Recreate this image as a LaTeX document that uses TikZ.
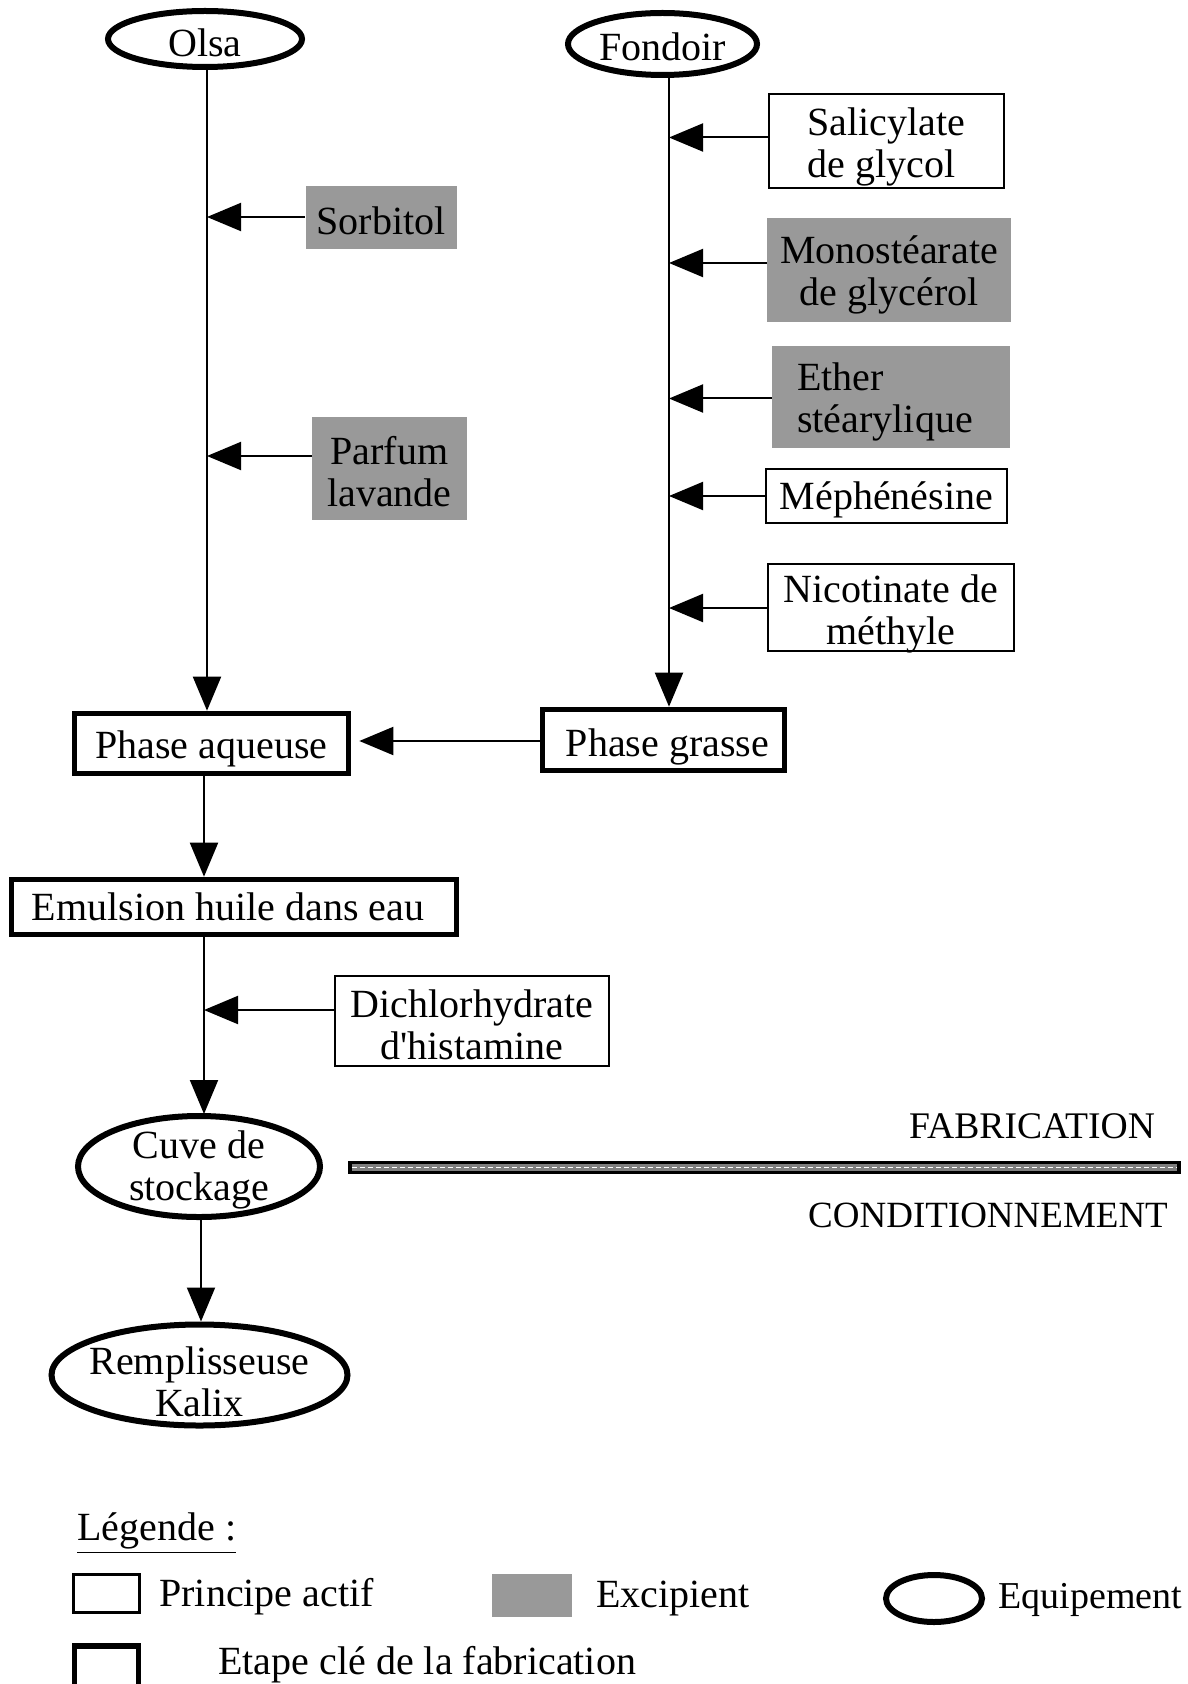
\documentclass[tikz,border=0pt]{standalone}
\usepackage{fontspec}
\setmainfont{Liberation Serif}
\usetikzlibrary{arrows.meta,shapes.geometric}
\begin{document}
\begin{tikzpicture}[x=0.5pt,y=-0.5pt,
 every node/.style={font=\fontsize{20}{21}\selectfont},
 txt/.style={inner sep=0pt, align=center},
 actif/.style={draw, line width=1.2pt, inner sep=0pt},
 exc/.style={fill=black!40, inner sep=0pt},
 keybox/.style={draw, line width=2.8pt, inner sep=0pt},
 equip/.style={draw, ellipse, line width=3pt, inner sep=0pt},
 arr/.style={line width=1pt, -{Triangle[length=17pt,width=14pt]}},
]
\useasboundingbox (0,0) rectangle (1187,1684);

% equipment
\node[equip, minimum width=97pt, minimum height=28pt] (olsa) at (205,39) {};
\node[txt] (olsat) at ([yshift=-2pt]olsa.center) {Olsa};
\node[equip, minimum width=94.5pt, minimum height=31pt] (fond) at (662.5,44) {};
\node[txt] (fondt) at ([yshift=-1.5pt]fond.center) {Fondoir};

% Olsa side inputs
\node[exc, minimum width=75.5pt, minimum height=31.5pt] (sorb) at (381,217.5) {};
\node[txt] (sorbt) at ([yshift=-1.5pt]sorb.center) {Sorbitol};
\node[exc, minimum width=77.5pt, minimum height=51.5pt] (parf) at (389.5,468.5) {};
\node[txt] (parft) at ([yshift=-1.5pt]parf.center) {Parfum\\lavande};

% Fondoir side inputs
\node[actif, minimum width=117.5pt, minimum height=47pt] (sal) at (886.5,141) {};
\node[txt, align=left] (salt) at ([yshift=-3pt]sal.center) {Salicylate\\de glycol};
\node[exc, minimum width=122pt, minimum height=52pt] (mono) at (889,270) {};
\node[txt] (monot) at ([yshift=-2.7pt]mono.center) {Monostéarate\\de glycérol};
\node[exc, minimum width=119pt, minimum height=51pt] (ether) at (891,397) {};
\node[txt, align=left] (ethert) at ([xshift=-3pt,yshift=-2.7pt]ether.center) {Ether\\stéarylique};
\node[actif, minimum width=120.5pt, minimum height=27pt] (meph) at (886.5,496) {};
\node[txt] (mepht) at ([yshift=-2pt]meph.center) {Méphénésine};
\node[actif, minimum width=123pt, minimum height=43.5pt] (nico) at (891,607.5) {};
\node[txt] (nicot) at ([yshift=-3pt]nico.center) {Nicotinate de\\méthyle};

% key steps
\node[keybox, minimum width=137pt, minimum height=30pt] (paq) at (211.5,743.5) {};
\node[txt] (paqt) at ([yshift=-2.5pt]paq.center) {Phase aqueuse};
\node[keybox, minimum width=121pt, minimum height=30.5pt] (pgr) at (663.5,740) {};
\node[txt] (pgrt) at ([xshift=2pt,yshift=-3.5pt]pgr.center) {Phase grasse};
\node[keybox, minimum width=222.5pt, minimum height=27.5pt] (emul) at (234,907) {};
\node[txt] (emult) at ([xshift=-3pt]emul.center) {Emulsion huile dans eau};
\node[actif, minimum width=137pt, minimum height=45pt] (dich) at (472,1021) {};
\node[txt] (dicht) at ([yshift=-2pt]dich.center) {Dichlorhydrate\\d\textquotesingle histamine};

\node[equip, minimum width=121pt, minimum height=50.5pt] (cuve) at (199,1166.5) {};
\node[txt] (cuvet) at ([yshift=-1.5pt]cuve.center) {Cuve de\\stockage};
\node[equip, minimum width=148pt, minimum height=50.5pt] (remp) at (199.5,1375) {};
\node[txt] (rempt) at ([yshift=-3.5pt]remp.center) {Remplisseuse\\Kalix};

% line coordinates
\coordinate (ox) at (207,0);
\coordinate (fx) at (669,0);
\coordinate (ex) at (204,0);
\coordinate (cx) at (201,0);

% main vertical flows
\draw[arr] (olsa.south -| ox) -- (paq.north -| ox);
\draw[arr] (fond.south -| fx) -- (pgr.north -| fx);
\coordinate (pgy) at (0,741);
\draw[arr, shorten >=4pt] (pgr.west |- pgy) -- (paq.east |- pgy);
\draw[arr] (paq.south -| ex) -- (emul.north -| ex);
\coordinate (cuvetop) at (204,1114);
\draw[arr] (emul.south -| ex) -- (cuvetop);
\draw[arr] (cuve.south -| cx) -- (remp.north -| cx);

% side arrows
\coordinate (a1) at (207,217);
\coordinate (a2) at (207,456);
\draw[arr] (sorb.west |- a1) -- (a1);
\draw[arr] (parf.west |- a2) -- (a2);
\coordinate (b1) at (669,137.5);
\coordinate (b2) at (669,263);
\coordinate (b3) at (669,398.5);
\coordinate (b4) at (669,496);
\coordinate (b5) at (669,608);
\draw[arr] (sal.west |- b1) -- (b1);
\draw[arr] (mono.west |- b2) -- (b2);
\draw[arr] (ether.west |- b3) -- (b3);
\draw[arr] (meph.west |- b4) -- (b4);
\draw[arr] (nico.west |- b5) -- (b5);
\coordinate (d1) at (204,1010);
\draw[arr] (dich.west |- d1) -- (d1);

% separator
\draw[line width=1.6pt, fill=black!50] (350,1162.5) rectangle (1179,1172.5);
\draw[white, line width=0.8pt, dash pattern=on 2.5pt off 1.5pt] (352,1167.5) -- (1177,1167.5);
\node[txt, font=\fontsize{18.8}{21}\selectfont] (fab) at (1032,1126) {FABRICATION};
\node[txt, font=\fontsize{18.5}{21}\selectfont] (cond) at (988,1215) {CONDITIONNEMENT};

% legend
\node[txt, anchor=west] (leg) at (77,1533) {\underline{Légende :}};
\node[actif, minimum width=33pt, minimum height=19pt] (l1) at (106.5,1593.5) {};
\node[txt, anchor=west] (l1t) at (159,1597) {Principe actif};
\node[exc, minimum width=40pt, minimum height=21.5pt] (l2) at (532,1595.5) {};
\node[txt, anchor=west] (l2t) at (596,1598) {Excipient};
\node[equip, minimum width=48pt, minimum height=23.5pt] (l3) at (934,1598.5) {};
\node[txt, anchor=west, font=\fontsize{19}{21}\selectfont] (l3t) at (998,1600) {Equipement};
\node[keybox, minimum width=32pt, minimum height=27pt] (l4) at (106.5,1673) {};
\node[txt, anchor=west] (l4t) at (218,1665) {Etape clé de la fabrication};
\end{tikzpicture}
\end{document}
